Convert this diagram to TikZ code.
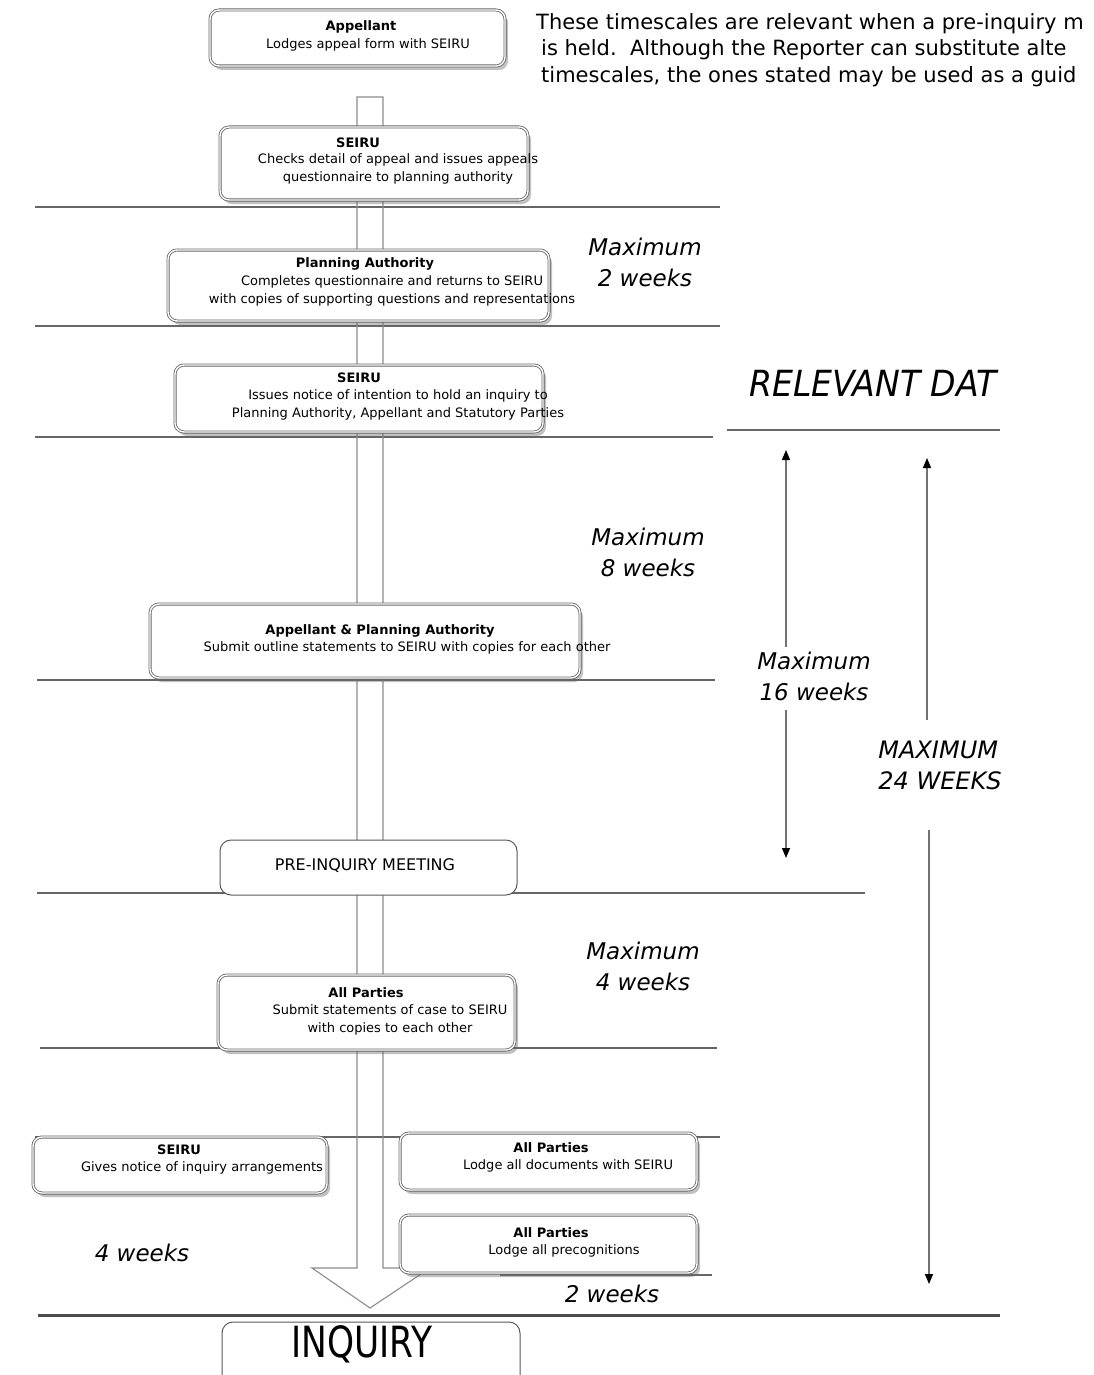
\documentclass[tikz,border=0pt]{standalone}
\usepackage{fontspec}
\setmainfont{DejaVu Sans}
\usetikzlibrary{shadows,arrows.meta}
\tikzset{
  dbox/.style={draw=black!60, double=white, double distance=1.4pt, line width=0.8pt,
    rounded corners=9pt, fill=white,
    drop shadow={shadow xshift=3pt, shadow yshift=-4pt, opacity=0.4, fill=black!60}},
  sbox/.style={draw=black!65, line width=1pt, rounded corners=11pt, fill=white},
  ttl/.style={font=\fontsize{13}{17}\selectfont\bfseries, inner sep=0pt},
  bdy/.style={font=\fontsize{13}{18}\selectfont, align=center, inner sep=0pt},
  lab/.style={font=\fontsize{23}{31}\selectfont\itshape, align=center, inner sep=0pt},
  rulel/.style={draw=black!60, line width=1.8pt},
  dimarrow/.style={draw=black!55, line width=1.4pt, -{Triangle[length=10pt,width=8pt,color=black]}},
  bigarrow/.style={draw=black!45, line width=1.1pt, line join=miter},
}
\begin{document}
\begin{tikzpicture}[x=1pt,y=-1pt]
\useasboundingbox (0,0) rectangle (1093,1375);
\clip (0,0) rectangle (1093,1375);
\fill[white] (0,0) rectangle (1093,1375);

% horizontal rules
\draw[rulel] (35,207) -- (720,207);
\draw[rulel] (35,326) -- (720,326);
\draw[rulel] (35,437) -- (713,437);
\draw[rulel] (727,430) -- (1000,430);
\draw[rulel] (37,680) -- (715,680);
\draw[rulel] (37,893) -- (865,893);
\draw[rulel] (40,1048) -- (717,1048);
\draw[rulel] (35,1137) -- (720,1137);
\draw[rulel] (500,1275) -- (712,1275);
\draw[draw=black!70, line width=3pt] (38,1315) -- (1000,1315);

% big hollow arrow
\draw[bigarrow] (357,97) -- (383,97) -- (383,1268) -- (430,1268) -- (370,1308)
  -- (312,1268) -- (357,1268) -- cycle;

% boxes
\node[dbox, minimum width=295pt, minimum height=56pt] (b1) at (357.5,38) {};
\node[dbox, minimum width=308pt, minimum height=73pt] (b2) at (374,163.5) {};
\node[dbox, minimum width=381pt, minimum height=71pt] (b3) at (358.5,285.5) {};
\node[dbox, minimum width=368pt, minimum height=67pt] (b4) at (359,398.5) {};
\node[dbox, minimum width=430pt, minimum height=74pt] (b5) at (365,641) {};
\node[sbox, minimum width=297pt, minimum height=55pt] (b6) at (368.5,867.5) {};
\node[dbox, minimum width=297pt, minimum height=75pt] (b7) at (366.5,1012.5) {};
\node[dbox, minimum width=294pt, minimum height=56pt] (b8) at (180,1165) {};
\node[dbox, minimum width=297pt, minimum height=57pt] (b9) at (548.5,1161.5) {};
\node[dbox, minimum width=297pt, minimum height=58pt] (b10) at (548.5,1244) {};
\node[sbox, minimum width=298pt, minimum height=68pt] (b11) at (371,1356) {};

% box texts
\node[ttl] (t1) at (361,27) {Appellant};
\node[bdy] (d1) at (368,45) {Lodges appeal form with SEIRU};
\node[ttl] (t2) at (358,143) {SEIRU};
\node[bdy] (d2) at (398,169) {Checks detail of appeal and issues appeals\\questionnaire to planning authority};
\node[ttl] (t3) at (365,264) {Planning Authority};
\node[bdy] (d3) at (392,291) {Completes questionnaire and returns to SEIRU\\with copies of supporting questions and representations};
\node[ttl] (t4) at (359,378) {SEIRU};
\node[bdy] (d4) at (398,404.5) {Issues notice of intention to hold an inquiry to\\Planning Authority, Appellant and Statutory Parties};
\node[ttl] (t5) at (380,631) {Appellant \& Planning Authority};
\node[bdy] (d5) at (407,648) {Submit outline statements to SEIRU with copies for each other};
\node[inner sep=0pt, font=\fontsize{16}{18}\selectfont] (t6) at (365,866) {PRE-INQUIRY MEETING};
\node[ttl] (t7) at (366,993) {All Parties};
\node[bdy] (d7) at (390,1020) {Submit statements of case to SEIRU\\with copies to each other};
\node[ttl] (t8) at (179,1150) {SEIRU};
\node[bdy] (d8) at (202,1168) {Gives notice of inquiry arrangements};
\node[ttl] (t9) at (551,1148) {All Parties};
\node[bdy] (d9) at (568,1166) {Lodge all documents with SEIRU};
\node[ttl] (t10) at (551,1233) {All Parties};
\node[bdy] (d10) at (564,1251) {Lodge all precognitions};
\node[inner sep=0pt] (t11) at (362,1344) {\scalebox{0.8}[1]{\fontsize{43}{44}\selectfont INQUIRY}};

% top-right note
\node[anchor=north west, align=left, inner sep=0pt, font=\fontsize{21}{26.5}\selectfont] (note) at (536,13)
  {These timescales are relevant when a pre-inquiry m\\
   \hspace*{5pt}is held.~~Although the Reporter can substitute alte\\
   \hspace*{5pt}timescales, the ones stated may be used as a guid};

% labels
\node[lab] (l2) at (645,262.5) {Maximum\\2 weeks};
\node[lab] (l8) at (648,552) {Maximum\\8 weeks};
\node[lab] (l16) at (814,676.5) {Maximum\\16 weeks};
\node[lab, align=left, font=\fontsize{24}{31}\selectfont\itshape] (l24) at (940,765.5) {MAXIMUM\\24 WEEKS};
\node[lab] (l4) at (643,966) {Maximum\\4 weeks};
\node[lab] (l4b) at (142,1253) {4 weeks};
\node[lab] (l2b) at (612,1294) {2 weeks};
\node[inner sep=0pt] (rel) at (873,383) {\scalebox{0.92}[1]{\fontsize{36}{38}\selectfont\itshape RELEVANT DAT}};

% dimension arrows
\coordinate (a16t) at (786,450);
\coordinate (a16b) at (786,858);
\coordinate (a16u) at (786,647);
\coordinate (a16d) at (786,710);
\draw[dimarrow] (a16u) -- (a16t);
\draw[dimarrow] (a16d) -- (a16b);
\coordinate (a24t) at (927,458);
\coordinate (a24b) at (929,1284);
\coordinate (a24u) at (927,720);
\coordinate (a24d) at (929,830);
\draw[dimarrow] (a24u) -- (a24t);
\draw[dimarrow] (a24d) -- (a24b);
\end{tikzpicture}
\end{document}
